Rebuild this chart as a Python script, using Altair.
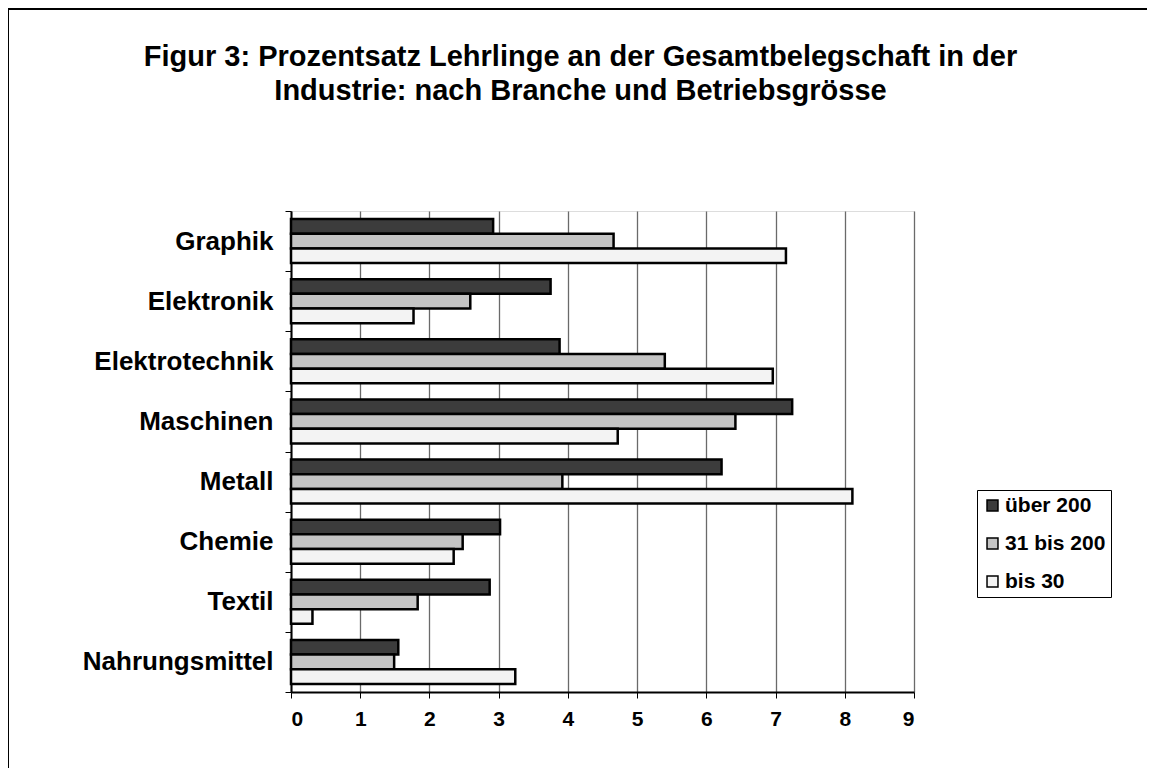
import altair as alt
import pandas as pd

branchen = ["Graphik", "Elektronik", "Elektrotechnik", "Maschinen",
            "Metall", "Chemie", "Textil", "Nahrungsmittel"]
gruppen = ["über 200", "31 bis 200", "bis 30"]
ueber_200 = [2.92, 3.75, 3.88, 7.24, 6.22, 3.02, 2.87, 1.55]
von_31_bis_200 = [4.66, 2.59, 5.40, 6.42, 3.92, 2.48, 1.83, 1.49]
bis_30 = [7.15, 1.77, 6.96, 4.72, 8.11, 2.35, 0.31, 3.24]
x_ticks = [0, 1, 2, 3, 4, 5, 6, 7, 8, 9]

rows = []
for i, b in enumerate(branchen):
    for g, vals in zip(gruppen, [ueber_200, von_31_bis_200, bis_30]):
        rows.append({"Branche": b, "Gruppe": g, "Wert": vals[i]})
df = pd.DataFrame(rows)

FONT = "Liberation Sans"

bars = alt.Chart(df).mark_bar(stroke="black", strokeWidth=2.5).encode(
    y=alt.Y("Branche:N", sort=branchen, title=None,
            scale=alt.Scale(paddingInner=0, paddingOuter=0),
            axis=alt.Axis(tickBand="extent", labelFont=FONT, labelFontSize=26,
                          labelFontWeight="bold", labelColor="black",
                          labelLimit=400,
                          labelPadding=12, tickSize=6, tickColor="black",
                          domainColor="black", domainWidth=2, grid=False)),
    yOffset=alt.YOffset("Gruppe:N", sort=gruppen,
                        scale=alt.Scale(paddingInner=0, paddingOuter=0.55)),
    x=alt.X("Wert:Q", title=None,
            scale=alt.Scale(domain=[0, 9], nice=False),
            axis=alt.Axis(values=x_ticks, labelFont=FONT, labelFontSize=21,
                          labelFontWeight="bold", labelColor="black",
                          labelPadding=10, tickSize=6, tickColor="black",
                          domainColor="black", domainWidth=2,
                          grid=True, gridColor="#6a6a6a", gridWidth=1.3)),
    fill=alt.Fill("Gruppe:N", sort=gruppen,
                  scale=alt.Scale(domain=gruppen,
                                  range=["#3c3c3c", "#c4c4c4", "#f3f3f3"]),
                  legend=alt.Legend(title=None, orient="none",
                                    legendX=686, legendY=279,
                                    labelFont=FONT, labelFontSize=21,
                                    labelFontWeight="bold", labelColor="black",
                                    symbolType="square", symbolSize=120,
                                    symbolStrokeColor="black",
                                    symbolStrokeWidth=1.5, labelOffset=2,
                                    rowPadding=16, padding=5,
                                    strokeColor="black", fillColor="white")),
)

frame = alt.Chart(df).mark_rect(filled=False, stroke="black", strokeWidth=2).encode(
    x=alt.value(-283), x2=alt.value(1000), y=alt.value(-202), y2=alt.value(700)
)

chart = alt.layer(frame, bars).properties(
    width=623, height=481,
    autosize=alt.AutoSizeParams(type="none"),
    padding={"left": 283, "top": 203, "right": 233, "bottom": 76},
    title=alt.TitleParams(
        ["Figur 3: Prozentsatz Lehrlinge an der Gesamtbelegschaft in der",
         "Industrie: nach Branche und Betriebsgrösse"],
        font=FONT, fontSize=29, fontWeight="bold", color="black",
        anchor="middle", frame="group", dx=-22, offset=-98, lineHeight=34),
).configure_view(stroke="black", strokeWidth=2).configure(background="white")

chart.save("out.html", embed_options={"renderer": "svg", "actions": False})
